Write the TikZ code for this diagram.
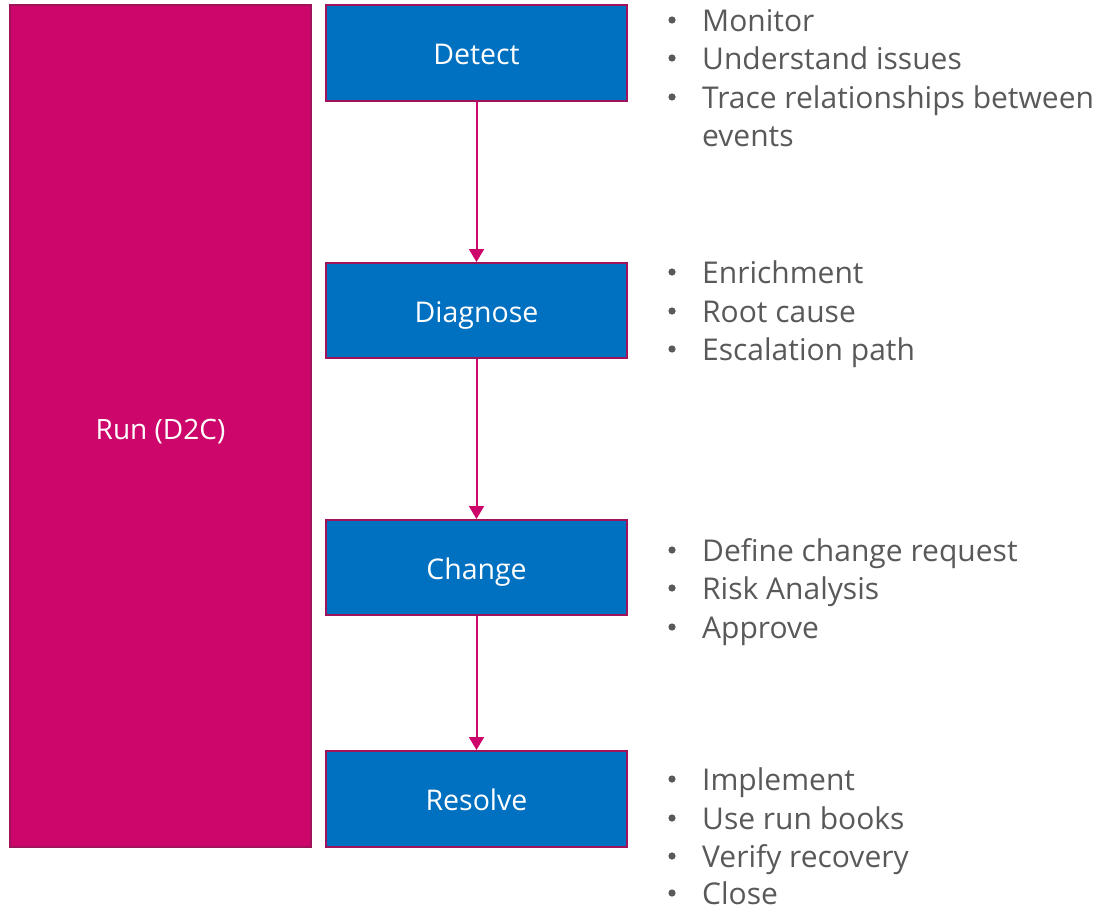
\documentclass[tikz,border=0pt]{standalone}
\usepackage{fontspec}
\setmainfont{Open Sans}
\usetikzlibrary{arrows.meta}
\definecolor{runpink}{RGB}{204,6,106}
\definecolor{stepblue}{RGB}{0,112,192}
\definecolor{edgeberry}{RGB}{160,18,90}
\definecolor{bullgray}{RGB}{89,89,89}
\tikzset{
  phase/.style={rectangle, draw=edgeberry, line width=2pt, fill=stepblue,
    text=white, minimum width=301pt, inner sep=0pt,
    text height=23pt, text depth=0pt,
    font=\fontsize{28.5}{32}\selectfont},
  runbox/.style={rectangle, draw=edgeberry, line width=2pt, fill=runpink,
    text=white, minimum width=301pt, minimum height=842pt, inner sep=0pt,
    text height=26pt, text depth=0pt,
    font=\fontsize{28}{32}\selectfont},
  flow/.style={draw=runpink, line width=2pt,
    -{Triangle[width=15pt,length=13pt]}},
  item/.style={anchor=base west, inner sep=0pt, text=bullgray,
    text depth=0pt, font=\fontsize{30}{34}\selectfont},
}
\newcommand{\ind}{\hspace*{36pt}}
\begin{document}
\begin{tikzpicture}[x=1pt,y=-1pt]
\useasboundingbox (0,0) rectangle (1096,910);

% left column
\node[runbox] (run) at (160.5,426) {Run (D2C)};

% process steps
\node[phase, minimum height=96pt] (detect)   at (476.5,53)    {Detect};
\node[phase, minimum height=95pt] (diagnose) at (476.5,310.5) {Diagnose};
\node[phase, minimum height=95pt] (change)   at (476.5,567.5) {Change};
\node[phase, minimum height=96pt] (resolve)  at (476.5,799)   {Resolve};

\draw[flow] (detect.south) -- (diagnose.north);
\draw[flow] (diagnose.south) -- (change.north);
\draw[flow] (change.south) -- (resolve.north);

% activities per step
\node[item] (d1) at (666,31)  {\ind Monitor};
\node[item] (d2) at (666,69)  {\ind Understand issues};
\node[item] (d3) at (666,108) {\ind Trace relationships between};
\node[item] (d4) at (702,146) {events};

\node[item] (g1) at (666,283) {\ind Enrichment};
\node[item] (g2) at (666,322) {\ind Root cause};
\node[item] (g3) at (666,360) {\ind Escalation path};

\node[item] (c1) at (666,561) {\ind Define change request};
\node[item] (c2) at (666,599) {\ind Risk Analysis};
\node[item] (c3) at (666,638) {\ind Approve};

\node[item] (r1) at (666,790) {\ind Implement};
\node[item] (r2) at (666,829) {\ind Use run books};
\node[item] (r3) at (666,867) {\ind Verify recovery};
\node[item] (r4) at (666,904) {\ind Close};

% bullet dots
\foreach \n in {d1,d2,d3,g1,g2,g3,c1,c2,c3,r1,r2,r3,r4}
  \fill[bullgray] ([shift={(6pt,11pt)}]\n.base west) circle (3.6pt);
\end{tikzpicture}
\end{document}
